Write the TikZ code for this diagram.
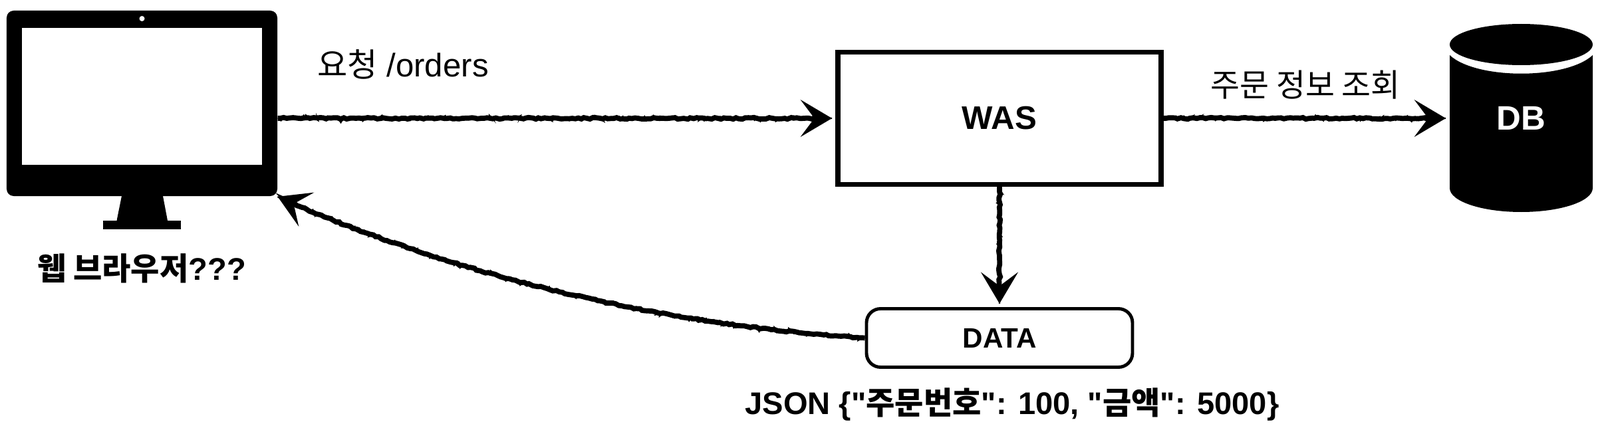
\documentclass[tikz,border=0pt]{standalone}
\usepackage{fontspec}
\setmainfont{Liberation Sans}
\newfontfamily\latinfont{Liberation Sans}
\newfontfamily\krfont{Noto Sans CJK KR}
\usetikzlibrary{arrows.meta, positioning, calc, decorations.pathmorphing}
\newcommand{\kr}[1]{{\krfont #1}}
\tikzset{
    sketchfuzz/.style={draw, -, line width=.6pt, decorate, decoration={random steps, segment length=.9pt, amplitude=1.2pt, post length=7pt}},
    sketcharrow/.style={line width=2.2pt, shorten >=1.5pt, -{Stealth[length=13.5pt, width=16pt, inset=6pt, line width=0pt]},
        decorate, decoration={random steps, segment length=1.3pt, amplitude=.35pt, pre length=1pt, post length=6pt},
        postaction={sketchfuzz}},
    plainlabel/.style={font=\fontsize{14}{16}\selectfont},
    boldlabel/.style={font=\fontsize{13.4}{16}\selectfont\bfseries},
}
\begin{document}
\begin{tikzpicture}
    \useasboundingbox (0,0) rectangle (24.06,6.46);

    % monitor
    \fill (1.83,3.51) -- (2.45,3.51) -- (2.52,3.14) -- (1.755,3.14) -- cycle;
    \node[fill=black, minimum width=1.17cm, minimum height=0.13cm, inner sep=0pt] (stand) at (2.135,3.075) {};
    \node[fill=black, rounded corners=3pt, minimum width=4.07cm, minimum height=2.79cm, inner sep=0pt] (browser) at (2.135,4.905) {};
    \node[fill=white, minimum width=3.61cm, minimum height=2.06cm, inner sep=0pt] (screen) at (2.135,5.01) {};
    \node[fill=white, circle, minimum size=0.08cm, inner sep=0pt] (camera) at (2.135,6.18) {};
    \node[boldlabel] (browserlabel) at (2.13,2.42) {\kr{\bfseries 웹 브라우저}???};

    % boxes
    \node[draw, line width=2.1pt, minimum width=4.86cm, minimum height=1.985cm, inner sep=0pt, font=\fontsize{14}{16}\selectfont\bfseries] (was) at (15.03,4.68) {WAS};
    \node[draw, line width=1.4pt, rounded corners=6pt, minimum width=4.0cm, minimum height=0.88cm, inner sep=0pt, font=\fontsize{12}{15}\selectfont\bfseries] (data) at (15.03,1.375) {DATA};
    \node[boldlabel] (jsonlabel) at (15.22,0.37) {\latinfont JSON \{"\kr{\bfseries 주문번호}": 100, "\kr{\bfseries 금액}": 5000\}};

    % db
    \fill (21.80,5.63) .. controls (22.2,5.26) and (23.55,5.26) .. (23.95,5.63) -- (23.95,3.63) arc[start angle=0, end angle=-180, x radius=1.075, y radius=0.36] -- cycle;
    \fill (22.875,5.79) ellipse [x radius=1.075, y radius=0.31];
    \node[text=white, minimum width=2.15cm, inner sep=0pt, font=\fontsize{14.5}{16}\selectfont\bfseries] (db) at (22.875,4.68) {DB};

    % labels
    \node[plainlabel] (requestlabel) at (6.06,5.49) {\kr{요청} /orders};
    \node[plainlabel, font=\fontsize{13.6}{16}\selectfont] (querylabel) at (19.63,5.18) {\kr{주문 정보 조회}};

    % arrows
    \draw[sketcharrow] (browser.east |- was.west) -- (was.west);
    \draw[sketcharrow] (was.east) -- (db.west);
    \draw[sketcharrow] (was.south) -- (data.north);
    \draw[sketcharrow] (data.west) .. controls (10.0,1.56) and (6.8,2.31) .. ($(browser.south east)+(-0.05,0.02)$);
\end{tikzpicture}
\end{document}
